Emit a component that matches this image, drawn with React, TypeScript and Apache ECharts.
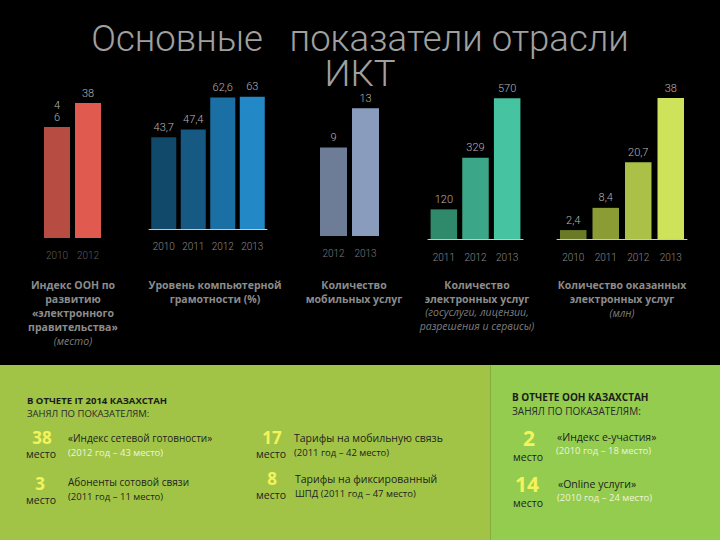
import React, { useEffect, useRef } from 'react';
import * as echarts from 'echarts';

// ---------- data ----------
const TITLE_LINES = ['Основные   показатели отрасли', 'ИКТ'];

const UN_EGOV_YEARS = ['2010', '2012'];
const UN_EGOV_RANK = [46, 38];
const UN_EGOV_RANK_BASE = 83; // rank chart is drawn inverted: taller bar = better place

const LITERACY_YEARS = ['2010', '2011', '2012', '2013'];
const LITERACY_PCT = [43.7, 47.4, 62.6, 63];

const MOBILE_YEARS = ['2012', '2013'];
const MOBILE_SERVICES = [9, 13];

const ESERV_YEARS = ['2011', '2012', '2013'];
const ESERV_COUNT = [120, 329, 570];

const RENDERED_YEARS = ['2010', '2011', '2012', '2013'];
const RENDERED_MLN = [2.4, 8.4, 20.7, 38];

const CHART_CAPTIONS = [
  ['Индекс ООН по', 'развитию', '«электронного', 'правительства»', '(место)'],
  ['Уровень компьютерной', 'грамотности (%)'],
  ['Количество', 'мобильных услуг'],
  ['Количество', 'электронных услуг', '(госуслуги, лицензии,', 'разрешения и сервисы)'],
  ['Количество оказанных', 'электронных услуг', '(млн)'],
];

const IT_HEADING = ['В ОТЧЕТЕ IT 2014 КАЗАХСТАН', 'ЗАНЯЛ ПО ПОКАЗАТЕЛЯМ:'];
const IT_PLACES = [38, 3, 17, 8];
const IT_TEXTS = [
  ['«Индекс сетевой готовности»', '(2012 год – 43 место)'],
  ['Абоненты сотовой связи', '(2011 год – 11 место)'],
  ['Тарифы на мобильную связь', '(2011 год – 42 место)'],
  ['Тарифы на фиксированный', 'ШПД (2011 год – 47 место)'],
];
const UN_HEADING = ['В ОТЧЕТЕ ООН КАЗАХСТАН', 'ЗАНЯЛ ПО ПОКАЗАТЕЛЯМ:'];
const UN_PLACES = [2, 14];
const UN_TEXTS = [
  ['«Индекс е-участия»', '(2010 год – 18 место)'],
  ['«Online услуги»', '(2010 год – 24 место)'],
];
const PLACE_WORD = 'место';

// ---------- styles ----------
const FONT = '"Open Sans", "Noto Sans", sans-serif';
const THIN = 'Roboto, "Open Sans", sans-serif';
const PAL = {
  egov: ['#b64c42', '#e05a4f'],
  lit: ['#11496b', '#165a84', '#1a70a4', '#2388c6'],
  mob: ['#6d7c97', '#8a9cbd'],
  eserv: ['#2f8a6c', '#3ba688', '#46c4a1'],
  rend: ['#6a7a25', '#8b9c34', '#abc046', '#cee25a'],
};

const comma = (v: number) => String(v).replace('.', ',');

type ChartCfg = {
  cats: string[];
  vals: number[];
  colors: string[];
  left: number;
  width: number;
  baseline: number;
  max: number;
  pxPerUnit: number;
  barWidth: number;
  axisLine: boolean;
  labelMargin: number;
  labelColor: string;
  fmt: (i: number) => string;
};

const charts: ChartCfg[] = [
  {
    cats: UN_EGOV_YEARS,
    vals: UN_EGOV_RANK.map((r) => UN_EGOV_RANK_BASE - r),
    colors: PAL.egov, left: 41.5, width: 62, baseline: 238, max: 50, pxPerUnit: 3,
    barWidth: 26, axisLine: false, labelMargin: 12, labelColor: '#5e5e5e',
    fmt: (i) => (i === 0 ? String(UN_EGOV_RANK[i]).split('').join('\n') : String(UN_EGOV_RANK[i])),
  },
  {
    cats: LITERACY_YEARS, vals: LITERACY_PCT, colors: PAL.lit,
    left: 149, width: 118, baseline: 229, max: 70, pxPerUnit: 2.1,
    barWidth: 25, axisLine: true, labelMargin: 12, labelColor: '#8a8a8a',
    fmt: (i) => comma(LITERACY_PCT[i]),
  },
  {
    cats: MOBILE_YEARS, vals: MOBILE_SERVICES, colors: PAL.mob,
    left: 317.5, width: 64, baseline: 236, max: 15, pxPerUnit: 9.83,
    barWidth: 27, axisLine: false, labelMargin: 12, labelColor: '#7a7a7a',
    fmt: (i) => String(MOBILE_SERVICES[i]),
  },
  {
    cats: ESERV_YEARS, vals: ESERV_COUNT, colors: PAL.eserv,
    left: 428, width: 95, baseline: 239, max: 600, pxPerUnit: 0.247,
    barWidth: 26.5, axisLine: true, labelMargin: 13, labelColor: '#8a8a8a',
    fmt: (i) => String(ESERV_COUNT[i]),
  },
  {
    cats: RENDERED_YEARS, vals: RENDERED_MLN, colors: PAL.rend,
    left: 557, width: 130, baseline: 239, max: 40, pxPerUnit: 3.71,
    barWidth: 26.5, axisLine: true, labelMargin: 13, labelColor: '#8a8a8a',
    fmt: (i) => comma(RENDERED_MLN[i]),
  },
];

function txt(text: string, x: number, y: number, o: any = {}) {
  return {
    type: 'text',
    x,
    y,
    z: 10,
    style: {
      text,
      fill: o.fill ?? '#222',
      fontSize: o.size ?? 10,
      fontWeight: o.weight ?? 'normal',
      fontStyle: o.style ?? 'normal',
      fontFamily: o.family ?? FONT,
      textAlign: o.align ?? 'left',
      textVerticalAlign: 'middle',
    },
  };
}

function buildOption() {
  const grid: any[] = [];
  const xAxis: any[] = [];
  const yAxis: any[] = [];
  const series: any[] = [];
  charts.forEach((c, i) => {
    const h = c.max * c.pxPerUnit;
    grid.push({ left: c.left, width: c.width, top: c.baseline - h, height: h, containLabel: false });
    xAxis.push({
      type: 'category',
      gridIndex: i,
      data: c.cats,
      axisLine: { show: c.axisLine, lineStyle: { color: '#c8c8c8', width: 1 } },
      axisTick: { show: false },
      axisLabel: {
        color: c.labelColor,
        fontSize: 10,
        fontFamily: THIN,
        fontWeight: 300,
        margin: c.labelMargin,
        interval: 0,
      },
    });
    yAxis.push({
      type: 'value',
      gridIndex: i,
      min: 0,
      max: c.max,
      show: false,
      splitLine: { show: false },
    });
    series.push({
      type: 'bar',
      xAxisIndex: i,
      yAxisIndex: i,
      barWidth: c.barWidth,
      data: c.vals.map((v, k) => ({ value: v, itemStyle: { color: c.colors[k] } })),
      label: {
        show: true,
        position: 'top',
        distance: 4,
        color: '#b4b4b4',
        fontSize: 11,
        fontFamily: THIN,
        fontWeight: 300,
        lineHeight: 12,
        formatter: (p: any) => c.fmt(p.dataIndex),
      },
    });
  });

  const g: any[] = [];
  // bottom panels
  g.push({ type: 'rect', shape: { x: 0, y: 365, width: 491, height: 175 }, style: { fill: '#a1c447' }, z: 1 });
  g.push({ type: 'rect', shape: { x: 491, y: 365, width: 229, height: 175 }, style: { fill: '#93cc4f' }, z: 1 });
  g.push({ type: 'line', shape: { x1: 490.5, y1: 365, x2: 490.5, y2: 540 }, style: { stroke: '#86ad3c', lineWidth: 1 }, z: 2 });

  // title
  g.push(txt(TITLE_LINES[0], 360, 38, { size: 36.5, fill: '#a0a0a0', align: 'center', weight: 300, family: THIN }));
  g.push(txt(TITLE_LINES[1], 360, 73, { size: 36.5, fill: '#a0a0a0', align: 'center', weight: 300, family: THIN }));

  // captions
  const capX = [73, 215, 354, 477, 622];
  CHART_CAPTIONS.forEach((lines, ci) => {
    lines.forEach((ln, li) => {
      const italic = ln.startsWith('(') || (ci === 3 && li === 3);
      const y = 285 + li * 14 - (italic && ci === 3 ? 1 : 0);
      g.push(
        txt(ln, capX[ci], y, {
          size: 10.5,
          weight: italic ? 'normal' : 'bold',
          style: italic ? 'italic' : 'normal',
          fill: italic ? '#7e7e7e' : '#8c8c8c',
          align: 'center',
        }),
      );
    });
  });

  // IT 2014 block
  g.push(txt(IT_HEADING[0], 27, 400, { size: 9.5, weight: 'bold', fill: '#1b1b1b' }));
  g.push(txt(IT_HEADING[1], 27, 413.5, { size: 9.5, fill: '#2a2a2a' }));
  const itPos = [
    { nx: 42, ny: 437, mx: 41, my: 454, tx: 68, ty: 438, lightSub: true },
    { nx: 40, ny: 483, mx: 41, my: 500, tx: 68, ty: 482, lightSub: false },
    { nx: 272, ny: 437, mx: 271, my: 454, tx: 294, ty: 438, lightSub: false },
    { nx: 272, ny: 478, mx: 271, my: 495, tx: 295, ty: 479, lightSub: false },
  ];
  IT_PLACES.forEach((p, k) => {
    const q = itPos[k];
    g.push(txt(String(p), q.nx, q.ny, { size: 17, weight: 'bold', fill: '#f3f35c', align: 'center' }));
    g.push(txt(PLACE_WORD, q.mx, q.my, { size: 10.5, fill: '#222', align: 'center' }));
    g.push(txt(IT_TEXTS[k][0], q.tx, q.ty, { size: k >= 2 ? 10.5 : 10, fill: '#1e1e1e' }));
    g.push(
      txt(IT_TEXTS[k][1], q.tx, q.ty + 14, {
        size: 9.5,
        fill: q.lightSub ? '#eef4d8' : '#1e1e1e',
      }),
    );
  });

  // UN block
  g.push(txt(UN_HEADING[0], 512, 397, { size: 10, weight: 'bold', fill: '#1b1b1b' }));
  g.push(txt(UN_HEADING[1], 512, 411, { size: 10, fill: '#2a2a2a' }));
  const unPos = [
    { nx: 529, ny: 438, mx: 528, my: 457, tx: 557, ty: 437 },
    { nx: 527, ny: 484, mx: 528, my: 503, tx: 558, ty: 484 },
  ];
  UN_PLACES.forEach((p, k) => {
    const q = unPos[k];
    g.push(txt(String(p), q.nx, q.ny, { size: 21, weight: 'bold', fill: '#f3f35c', align: 'center' }));
    g.push(txt(PLACE_WORD, q.mx, q.my, { size: 10.5, fill: '#222', align: 'center' }));
    g.push(txt(UN_TEXTS[k][0], q.tx, q.ty, { size: 10.5, fill: '#1e1e1e' }));
    g.push(txt(UN_TEXTS[k][1], q.tx - 1, q.ty + 13.5, { size: 9.5, fill: '#eef4d8' }));
  });

  return {
    animation: false,
    backgroundColor: '#000000',
    grid,
    xAxis,
    yAxis,
    series,
    graphic: g,
  };
}

export default function App() {
  const ref = useRef<HTMLDivElement>(null);
  useEffect(() => {
    if (!ref.current) return;
    const chart = echarts.init(ref.current, null, { renderer: 'svg', width: 720, height: 540 });
    chart.setOption(buildOption() as any);
    return () => chart.dispose();
  }, []);
  return (
    <div
      ref={ref}
      style={{ position: 'fixed', left: 0, top: 0, width: 720, height: 540, background: '#000' }}
    />
  );
}
